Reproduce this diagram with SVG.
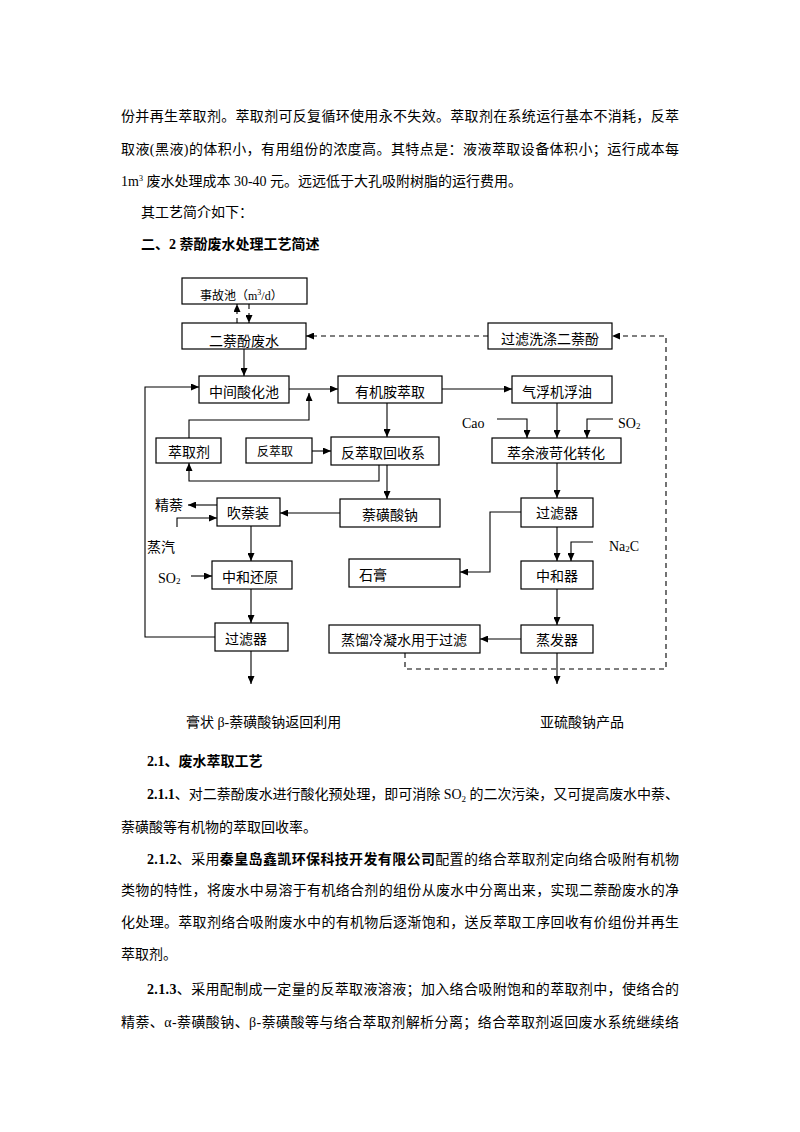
<svg xmlns="http://www.w3.org/2000/svg" width="800" height="1132" viewBox="0 0 800 1132">
<defs>
<marker id="ah" viewBox="0 0 8 7" refX="8" refY="3.5" markerWidth="8" markerHeight="7" markerUnits="userSpaceOnUse" orient="auto">
<path d="M0,0 L8,3.5 L0,7 z" fill="#000"/>
</marker>
<style>
.body{font-family:"Liberation Serif","Noto Sans CJK SC",serif;font-size:14px;fill:#000}
.b{font-weight:bold}
.box{fill:#fff;stroke:#000;stroke-width:1.2}
.lbl{font-family:"Liberation Serif","Noto Sans CJK SC",serif;font-size:14px;fill:#000;dominant-baseline:central}
.sm{font-size:12px}
.ln{fill:none;stroke:#000;stroke-width:1.1;marker-end:url(#ah)}
.pl{fill:none;stroke:#000;stroke-width:1.1}
.dl{fill:none;stroke:#000;stroke-width:1.1;stroke-dasharray:5 4}
.dla{fill:none;stroke:#000;stroke-width:1.1;stroke-dasharray:5 4;marker-end:url(#ah)}
</style>
</defs>
<rect width="800" height="1132" fill="#fff"/>

<g id="text-top" class="body">
<text x="121" y="121" textLength="558" lengthAdjust="spacing">份并再生萃取剂。萃取剂可反复循环使用永不失效。萃取剂在系统运行基本不消耗，反萃</text>
<text x="121" y="154" textLength="558" lengthAdjust="spacing">取液(黑液)的体积小，有用组份的浓度高。其特点是：液液萃取设备体积小；运行成本每</text>
<text x="121" y="186">1m<tspan dy="-5" font-size="8">3</tspan><tspan dy="5"> 废水处理成本 30-40 元。远远低于大孔吸附树脂的运行费用。</tspan></text>
<text x="141" y="217">其工艺简介如下：</text>
<text x="141" y="249" class="b">二、2 萘酚废水处理工艺简述</text>
</g>

<g id="connectors">
<path class="dla" d="M237,323 V304"/>
<path class="dla" d="M249,304 V323"/>
<path class="ln" d="M244,349 V376"/>
<path class="ln" d="M215,637 H145 V387 H199"/>
<path class="ln" d="M289,389 H338"/>
<path class="ln" d="M189,438 V420 H309 V393"/>
<path class="ln" d="M387,403 V437"/>
<path class="ln" d="M442,389 H512"/>
<path class="ln" d="M312,451 H331"/>
<path class="ln" d="M379,465 V481 H189 V463"/>
<path class="ln" d="M387,465 V499"/>
<path class="ln" d="M340,513 H280"/>
<path class="ln" d="M217,505 H188"/>
<path class="ln" d="M177,527 V518 H217"/>
<path class="ln" d="M251,526 V561"/>
<path class="ln" d="M191,576 H212"/>
<path class="ln" d="M251,589 V623"/>
<path class="ln" d="M251,651 V684"/>
<path class="ln" d="M557,403 V438"/>
<path class="ln" d="M497,419 H527 V438"/>
<path class="ln" d="M613,419 H587 V438"/>
<path class="ln" d="M557,463 V498"/>
<path class="ln" d="M521,512 H490 V572 H460"/>
<path class="ln" d="M557,527 V561"/>
<path class="ln" d="M593,542 H571 V561"/>
<path class="ln" d="M557,589 V625"/>
<path class="ln" d="M521,639 H480"/>
<path class="ln" d="M557,653 V684"/>
<path class="dla" d="M405,653 V669 H666 V336 H612"/>
<path class="dla" d="M488,336 H306"/>
</g>

<g id="n-accident"><rect class="box" x="182" y="278" width="125" height="26"/><text class="lbl sm" x="200" y="296">事故池（m<tspan dy="-4" font-size="8">3</tspan><tspan dy="4">/d）</tspan></text></g>
<g id="n-wastewater"><rect class="box" x="182" y="323" width="124" height="26"/><text class="lbl" x="244" y="341" text-anchor="middle">二萘酚废水</text></g>
<g id="n-acid"><rect class="box" x="199" y="376" width="90" height="27"/><text class="lbl" x="244" y="392" text-anchor="middle">中间酸化池</text></g>
<g id="n-amine"><rect class="box" x="338" y="376" width="104" height="27"/><text class="lbl" x="390" y="392" text-anchor="middle">有机胺萃取</text></g>
<g id="n-float"><rect class="box" x="512" y="376" width="100" height="27"/><text class="lbl" x="557" y="392" text-anchor="middle">气浮机浮油</text></g>
<g id="n-wash"><rect class="box" x="488" y="323" width="124" height="26"/><text class="lbl" x="550" y="339" text-anchor="middle">过滤洗涤二萘酚</text></g>
<g id="n-extractant"><rect class="box" x="156" y="438" width="65" height="25"/><text class="lbl" x="189" y="452" text-anchor="middle">萃取剂</text></g>
<g id="n-back"><rect class="box" x="246" y="438" width="66" height="25"/><text class="lbl sm" x="275" y="452" text-anchor="middle">反萃取</text></g>
<g id="n-recover"><rect class="box" x="331" y="437" width="108" height="28"/><text class="lbl" x="383" y="453" text-anchor="middle">反萃取回收系</text></g>
<g id="n-raffinate"><rect class="box" x="492" y="438" width="129" height="25"/><text class="lbl" x="556" y="453" text-anchor="middle">萃余液苛化转化</text></g>
<g id="n-blow"><rect class="box" x="217" y="498" width="63" height="28"/><text class="lbl" x="248" y="513" text-anchor="middle">吹萘装</text></g>
<g id="n-sulfonate"><rect class="box" x="340" y="499" width="100" height="28"/><text class="lbl" x="390" y="515" text-anchor="middle">萘磺酸钠</text></g>
<g id="n-filter-r1"><rect class="box" x="521" y="498" width="72" height="29"/><text class="lbl" x="557" y="513" text-anchor="middle">过滤器</text></g>
<g id="n-neutral-red"><rect class="box" x="212" y="561" width="80" height="28"/><text class="lbl" x="250" y="577" text-anchor="middle">中和还原</text></g>
<g id="n-gypsum"><rect class="box" x="349" y="559" width="111" height="28"/><text class="lbl" x="359" y="575">石膏</text></g>
<g id="n-neutralizer"><rect class="box" x="521" y="561" width="72" height="28"/><text class="lbl" x="557" y="576" text-anchor="middle">中和器</text></g>
<g id="n-filter-l"><rect class="box" x="215" y="623" width="73" height="28"/><text class="lbl" x="246" y="639" text-anchor="middle">过滤器</text></g>
<g id="n-condensate"><rect class="box" x="329" y="625" width="151" height="28"/><text class="lbl" x="404" y="640" text-anchor="middle">蒸馏冷凝水用于过滤</text></g>
<g id="n-evaporator"><rect class="box" x="521" y="625" width="72" height="28"/><text class="lbl" x="557" y="640" text-anchor="middle">蒸发器</text></g>

<g id="labels">
<text class="lbl" x="155" y="505">精萘</text>
<text class="lbl" x="147" y="547">蒸汽</text>
<text class="lbl" x="158" y="578">SO<tspan dy="3" font-size="9">2</tspan></text>
<text class="lbl" x="462" y="423">Cao</text>
<text class="lbl" x="618" y="423">SO<tspan dy="3" font-size="9">2</tspan></text>
<text class="lbl" x="609" y="546">Na<tspan dy="3" font-size="9">2</tspan><tspan dy="-3">C</tspan></text>
<text class="lbl" x="186" y="722">膏状 β-萘磺酸钠返回利用</text>
<text class="lbl" x="540" y="722">亚硫酸钠产品</text>
</g>

<g id="text-bottom" class="body">
<text x="147" y="766" class="b">2.1、废水萃取工艺</text>
<text x="147" y="799" textLength="532" lengthAdjust="spacing"><tspan class="b">2.1.1</tspan>、对二萘酚废水进行酸化预处理，即可消除 SO<tspan dy="3" font-size="9">2</tspan><tspan dy="-3"> 的二次污染，又可提高废水中萘、</tspan></text>
<text x="121" y="832">萘磺酸等有机物的萃取回收率。</text>
<text x="147" y="864" textLength="532" lengthAdjust="spacing"><tspan class="b">2.1.2</tspan>、采用<tspan class="b">秦皇岛鑫凯环保科技开发有限公司</tspan>配置的络合萃取剂定向络合吸附有机物</text>
<text x="121" y="895" textLength="558" lengthAdjust="spacing">类物的特性，将废水中易溶于有机络合剂的组份从废水中分离出来，实现二萘酚废水的净</text>
<text x="121" y="927" textLength="558" lengthAdjust="spacing">化处理。萃取剂络合吸附废水中的有机物后逐渐饱和，送反萃取工序回收有价组份并再生</text>
<text x="121" y="959">萃取剂。</text>
<text x="147" y="994" textLength="532" lengthAdjust="spacing"><tspan class="b">2.1.3</tspan>、采用配制成一定量的反萃取液溶液；加入络合吸附饱和的萃取剂中，使络合的</text>
<text x="121" y="1027" textLength="558" lengthAdjust="spacing">精萘、α-萘磺酸钠、β-萘磺酸等与络合萃取剂解析分离；络合萃取剂返回废水系统继续络</text>
</g>
</svg>
